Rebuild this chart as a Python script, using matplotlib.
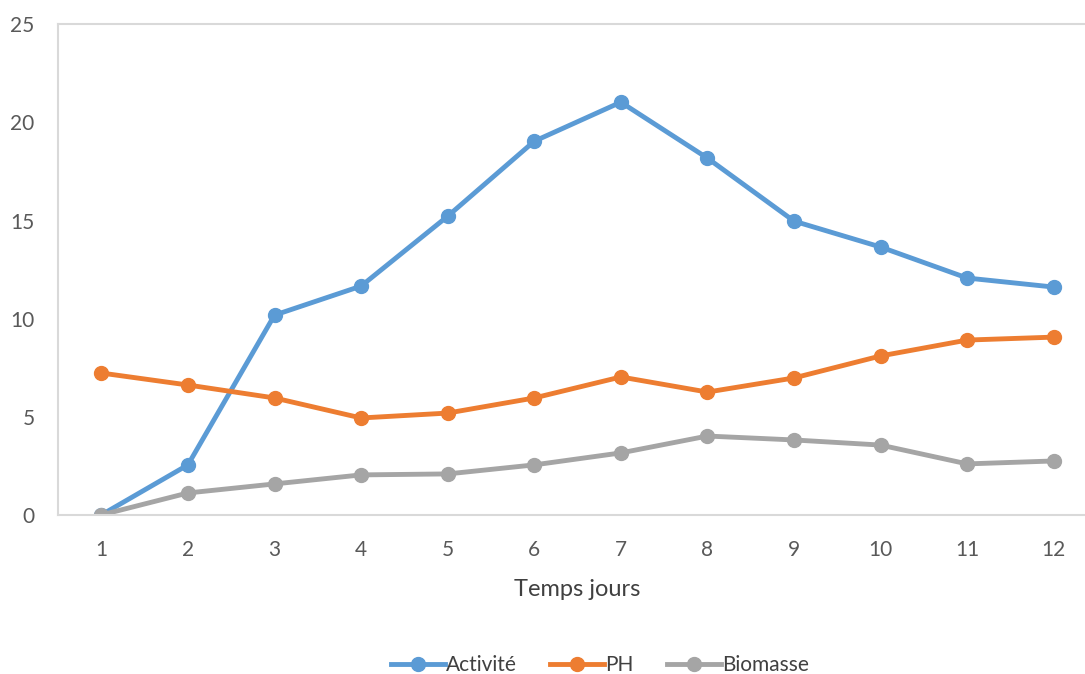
import numpy as np
import matplotlib.pyplot as plt

jours = np.arange(1, 13)
activite = [0, 2.55, 10.18, 11.66, 15.22, 19.04, 21.03, 18.18, 14.97, 13.65, 12.07, 11.61]
ph = [7.23, 6.62, 5.96, 4.94, 5.19, 5.96, 7.03, 6.26, 6.98, 8.10, 8.91, 9.06]
biomasse = [0, 1.12, 1.58, 2.04, 2.09, 2.55, 3.16, 4.02, 3.82, 3.56, 2.60, 2.75]

plt.rcParams['font.family'] = ['Lato', 'DejaVu Sans']

fig = plt.figure(figsize=(10.85, 6.74), dpi=100)
ax = fig.add_axes([0.0535, 0.236, 0.9576, 0.728])

ax.plot(jours, activite, color='#5B9BD5', lw=3.5, marker='o', ms=10, label='Activité')
ax.plot(jours, ph, color='#ED7D31', lw=3.5, marker='o', ms=10, label='PH')
ax.plot(jours, biomasse, color='#A5A5A5', lw=3.5, marker='o', ms=10, label='Biomasse')

ax.set_xlim(0.5, 12.5)
ax.set_ylim(0, 25)
ax.set_xticks(jours)
ax.set_yticks([0, 5, 10, 15, 20, 25])
for s in ax.spines.values():
    s.set_color('#D9D9D9')
    s.set_linewidth(1.5)
ax.spines['right'].set_visible(False)
ax.tick_params(length=0, labelsize=15, colors='#595959', pad=18)
ax.tick_params(axis='y', pad=17)
ax.set_xlabel('Temps jours', fontsize=17, color='#404040', labelpad=14)

fig.legend(loc='lower center', bbox_to_anchor=(0.553, -0.03), ncol=3, frameon=False,
           fontsize=15, handlelength=2.6, columnspacing=1.6, handletextpad=0.05,
           labelcolor='#404040')

fig.savefig('out.png', dpi=100)
